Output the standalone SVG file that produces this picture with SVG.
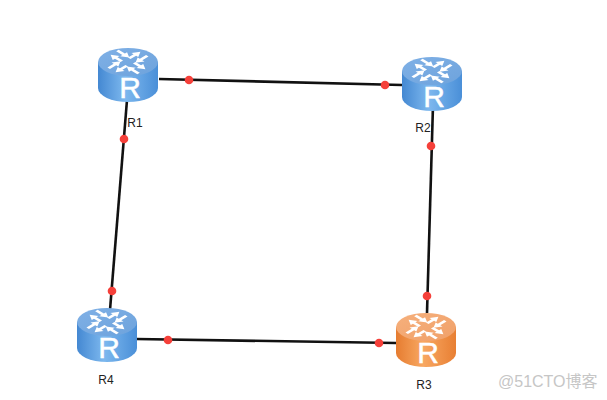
<svg xmlns="http://www.w3.org/2000/svg" width="607" height="400" viewBox="0 0 607 400">
<style>
.link{stroke:#111;stroke-width:2.6;fill:none}
.dot{fill:#f5403a}
.lbl{font:12px "Liberation Sans",Arial,sans-serif;fill:#222;text-anchor:middle}
.r{font:30px "Liberation Sans",Arial,sans-serif;fill:#fff;stroke:#fff;stroke-width:.5;text-anchor:middle}
.wm{font:16px "Liberation Sans","Noto Sans CJK SC",sans-serif;fill:#c6c6c6}
</style>
<defs>
<linearGradient id="bs" x1="0" x2="1" y1="0" y2="0"><stop offset="0" stop-color="#4488d2"/><stop offset=".45" stop-color="#7db8ee"/><stop offset="1" stop-color="#4a8fd8"/></linearGradient>
<linearGradient id="bt" x1="0" x2="1" y1="0" y2="1"><stop offset="0" stop-color="#7fb0e6"/><stop offset="1" stop-color="#6ea3dc"/></linearGradient>
<linearGradient id="os" x1="0" x2="1" y1="0" y2="0"><stop offset="0" stop-color="#e67c30"/><stop offset=".45" stop-color="#f8a862"/><stop offset="1" stop-color="#e87f33"/></linearGradient>
<linearGradient id="ot" x1="0" x2="1" y1="0" y2="1"><stop offset="0" stop-color="#f6b07c"/><stop offset="1" stop-color="#f0a069"/></linearGradient>
<g id="arm" fill="#fff"><path d="M6-6H15V-9.5L24-4 15 1.5V-2H6Z"/><path d="M24 6H14V9.5L5 4 14-1.5V2H24Z" transform="translate(0,3)"/></g>
<g id="glyph"><g transform="translate(30,14) scale(.88,.52)"><use href="#arm" transform="rotate(45)"/><use href="#arm" transform="rotate(135)"/><use href="#arm" transform="rotate(225)"/><use href="#arm" transform="rotate(315)"/></g><text class="r" x="32" y="50">R</text></g>
</defs>
<g id="connectors">
<line class="link" x1="159" y1="79" x2="402" y2="85"/>
<line class="link" x1="127" y1="100" x2="110" y2="310"/>
<line class="link" x1="433" y1="105" x2="427" y2="313"/>
<line class="link" x1="136" y1="339" x2="396" y2="343"/>
<circle class="dot" cx="189" cy="80" r="4.3"/><circle class="dot" cx="385" cy="85" r="4.3"/>
<circle class="dot" cx="124" cy="139" r="4.3"/><circle class="dot" cx="112" cy="291" r="4.3"/>
<circle class="dot" cx="431" cy="146" r="4.3"/><circle class="dot" cx="427" cy="296" r="4.3"/>
<circle class="dot" cx="168" cy="340" r="4.3"/><circle class="dot" cx="379" cy="343" r="4.3"/>
</g>
<g id="R1" transform="translate(98,48)"><path d="M0 14V40A30 14 0 0 0 60 40V14Z" fill="url(#bs)"/><ellipse cx="30" cy="14" rx="30" ry="14" fill="url(#bt)"/><use href="#glyph"/><text class="lbl" x="37" y="79">R1</text></g>
<g id="R2" transform="translate(402,57)"><path d="M0 14V40A30 14 0 0 0 60 40V14Z" fill="url(#bs)"/><ellipse cx="30" cy="14" rx="30" ry="14" fill="url(#bt)"/><use href="#glyph"/><text class="lbl" x="21" y="75">R2</text></g>
<g id="R3" transform="translate(396,313)"><path d="M0 14V40A30 14 0 0 0 60 40V14Z" fill="url(#os)"/><ellipse cx="30" cy="14" rx="30" ry="14" fill="url(#ot)"/><use href="#glyph"/><text class="lbl" x="28" y="76">R3</text></g>
<g id="R4" transform="translate(77,308)"><path d="M0 14V40A30 14 0 0 0 60 40V14Z" fill="url(#bs)"/><ellipse cx="30" cy="14" rx="30" ry="14" fill="url(#bt)"/><use href="#glyph"/><text class="lbl" x="29" y="76">R4</text></g>
<text class="wm" x="498" y="387">@51CTO博客</text>
</svg>
